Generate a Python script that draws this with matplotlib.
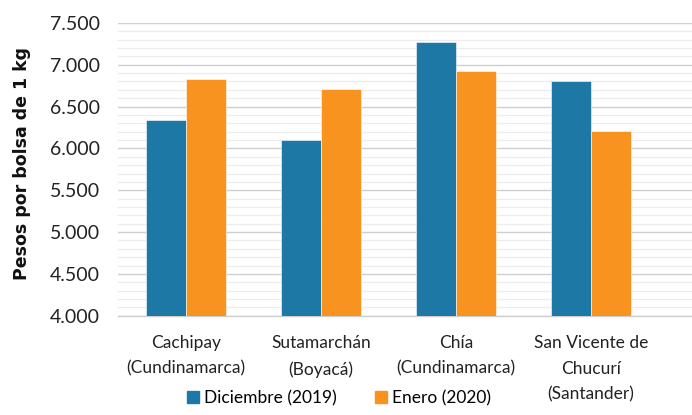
import matplotlib
matplotlib.use("Agg")
import matplotlib.pyplot as plt
from matplotlib.ticker import MultipleLocator, FuncFormatter
from matplotlib.patches import Patch
import numpy as np

categories = ["Cachipay\n(Cundinamarca)", "Sutamarchán\n(Boyacá)",
              "Chía\n(Cundinamarca)", "San Vicente de\nChucurí\n(Santander)"]
diciembre = [6340, 6100, 7275, 6805]
enero = [6830, 6715, 6930, 6210]
series_names = ["Diciembre (2019)", "Enero (2020)"]
colors = ["#1d78a6", "#f7931e"]

plt.rcParams['font.family'] = ['Lato', 'DejaVu Sans']

fig = plt.figure(figsize=(6.92, 4.15), dpi=100)
ax = fig.add_axes([0.171, 0.239, 0.829, 0.706])

x = np.arange(len(categories))
w = 0.296
ax.bar(x - w/2, diciembre, w, color=colors[0], edgecolor="white", linewidth=0.4, zorder=3)
ax.bar(x + w/2, enero, w, color=colors[1], edgecolor="white", linewidth=0.4, zorder=3)

ax.set_ylim(4000, 7500)
ax.set_xlim(-0.5, 3.75)
ax.yaxis.set_major_locator(MultipleLocator(500))
ax.yaxis.set_minor_locator(MultipleLocator(100))
ax.yaxis.set_major_formatter(FuncFormatter(lambda v, p: f"{int(v):,}".replace(",", ".")))
ax.grid(axis='y', which='major', color="#cfcfcf", linewidth=1.0, zorder=0)
ax.grid(axis='y', which='minor', color="#ececec", linewidth=0.9, zorder=0)
for s in ["top", "right", "left"]:
    ax.spines[s].set_visible(False)
ax.spines["bottom"].set_color("#cfcfcf")
ax.spines["bottom"].set_linewidth(1.0)
ax.tick_params(axis='y', which='both', length=0, labelsize=14, colors="#222222", pad=13)
ax.tick_params(axis='x', length=0, labelsize=12.5, colors="#222222", pad=14)
ax.set_xticks(x)
ax.set_xticklabels(categories, linespacing=1.72, va='top')

fig.text(0.032, 0.607, "Pesos por bolsa de 1 kg", rotation=90, ha='center', va='center',
         fontsize=12.5, fontweight='bold', color="#111111", family=['DejaVu Sans'])

handles = [Patch(color=colors[0]), Patch(color=colors[1])]
fig.legend(handles, series_names, loc='center', bbox_to_anchor=(0.49, 0.04), ncol=2,
           frameon=False, fontsize=12.5, handlelength=0.7, handleheight=0.7,
           handletextpad=0.3, columnspacing=2.2)

fig.savefig("out.png", dpi=100)
